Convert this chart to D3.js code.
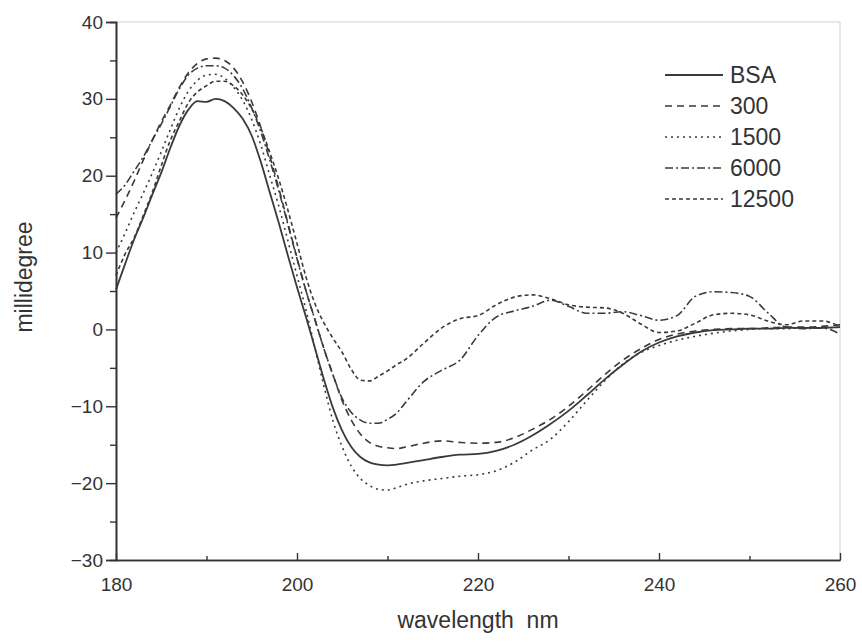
<!DOCTYPE html>
<html>
<head>
<meta charset="utf-8">
<script src="https://d3js.org/d3.v7.min.js"></script>
<style>
  body { margin: 0; background: #fff; }
  text { font-family: Arial, "Liberation Sans", sans-serif; fill: #333; }
</style>
</head>
<body>
<div id="chart"></div>
<script>
var wavelength = [180,181,182,183,184,185,186,187,188,189,190,191,192,193,194,195,196,197,198,199,200,
    201,202,203,204,205,206,207,208,209,210,211,212,214,216,218,220,222,224,226,228,230,
    232,234,236,238,240,242,244,246,248,250,252,254,256,258,260];

var bsa = [5.2,8.5,11.7,14.5,17.5,20.4,23.6,26.5,28.6,29.7,29.6,30.0,29.7,28.8,27.4,25.2,21.8,17.8,13.8,9.6,5.5,
    1.6,-2.5,-6.6,-10.3,-13.2,-15.3,-16.6,-17.3,-17.6,-17.7,-17.6,-17.4,-17.0,-16.6,-16.3,-16.2,-15.8,-15.0,-13.8,-12.3,-10.6,
    -8.6,-6.5,-4.6,-2.9,-1.7,-0.9,-0.4,-0.1,0.0,0.1,0.1,0.2,0.2,0.2,0.3];

var s300 = [14.5,16.8,19.3,22.0,24.6,27.0,29.2,31.5,33.4,34.6,35.2,35.3,35.0,34.0,32.2,29.6,26.3,22.5,18.3,13.8,9.3,
    5.0,1.2,-2.6,-6.0,-9.3,-11.8,-13.6,-14.7,-15.2,-15.4,-15.5,-15.3,-14.8,-14.5,-14.7,-14.8,-14.7,-14.1,-13.0,-11.7,-10.0,
    -8.0,-5.9,-4.0,-2.5,-1.3,-0.6,-0.2,0.0,0.1,0.1,0.2,0.3,0.3,0.4,0.6];

var s1500 = [10.0,12.5,15.2,17.7,20.3,23.1,26.0,28.8,31.0,32.4,33.1,33.2,32.7,31.5,29.8,27.3,24.0,20.0,16.0,11.5,7.0,
    2.5,-2.5,-7.5,-12.0,-15.3,-17.8,-19.4,-20.3,-20.8,-20.9,-20.6,-20.2,-19.7,-19.4,-19.1,-18.9,-18.4,-17.3,-15.7,-14.3,-12.0,
    -9.3,-6.7,-4.5,-3.0,-2.1,-1.4,-0.9,-0.5,-0.2,0.0,0.1,0.1,0.2,0.2,0.3];

var s6000 = [17.6,18.8,20.6,22.4,24.6,26.7,29.0,31.3,33.1,34.0,34.3,34.3,34.0,33.0,31.3,28.8,25.7,22.0,18.0,13.6,9.2,
    5.0,1.2,-2.6,-6.0,-9.0,-10.8,-11.8,-12.2,-12.2,-11.7,-10.9,-9.5,-6.8,-5.3,-4.0,-0.8,1.6,2.4,3.0,3.8,3.0,
    2.1,2.1,2.3,1.8,1.2,1.8,4.3,4.9,4.8,4.3,2.2,0.3,0.1,0.2,-0.6];

var s12500 = [7.0,9.8,11.9,14.8,17.8,21.3,24.6,27.1,29.5,30.9,31.7,32.3,32.3,31.7,30.5,28.7,26.2,23.0,19.5,15.5,11.2,
    6.8,3.3,0.8,-1.2,-3.0,-5.2,-6.6,-6.7,-6.1,-5.4,-4.6,-3.9,-1.8,0.2,1.4,1.8,3.2,4.2,4.5,4.0,3.2,
    2.9,2.8,2.1,0.7,-0.4,-0.2,0.8,1.9,2.1,1.9,1.1,0.6,1.1,1.1,0.4];

var seriesNames = ['BSA', '300', '1500', '6000', '12500'];
var seriesValues = [bsa, s300, s1500, s6000, s12500];
var dashes = [null, '7,5', '2,4', '8,3,2,3', '4,3'];

var xTicks = [180, 200, 220, 240, 260];
var xMinor = [190, 210, 230, 250];
var yTicks = [-30, -20, -10, 0, 10, 20, 30, 40];
var yMinor = [-25, -15, -5, 5, 15, 25, 35];

var margin = {top: 22, right: 22, bottom: 83, left: 116};
var width = 862 - margin.left - margin.right, height = 643 - margin.top - margin.bottom;

var x = d3.scaleLinear().domain([180, 260]).range([0, width]);
var y = d3.scaleLinear().domain([-30, 40]).range([height, 0]);

var svg = d3.select('#chart')
    .append('svg')
    .attr('width', 862)
    .attr('height', 643);
var graph = svg.append('g')
    .attr('transform', 'translate(' + margin.left + ',' + margin.top + ')');

// light frame top / right
graph.append('line').attr('x1', 0).attr('x2', width).attr('y1', 0).attr('y2', 0)
    .attr('stroke', '#cfcfcf').attr('stroke-width', 1);
graph.append('line').attr('x1', width).attr('x2', width).attr('y1', 0).attr('y2', height)
    .attr('stroke', '#cfcfcf').attr('stroke-width', 1);

// curves
var line = d3.line()
    .x(function (d) { return x(d[0]); })
    .y(function (d) { return y(d[1]); })
    .curve(d3.curveMonotoneX);

seriesValues.forEach(function (vals, i) {
    var pts = wavelength.map(function (w, j) { return [w, vals[j]]; });
    graph.append('path')
        .datum(pts)
        .attr('d', line)
        .attr('fill', 'none')
        .attr('stroke', '#3a3a3a')
        .attr('stroke-width', i == 0 ? 1.8 : 1.6)
        .attr('stroke-dasharray', dashes[i]);
});

// axes
graph.append('g')
    .call(d3.axisLeft(y).tickValues(yTicks).tickSize(10).tickPadding(3))
    .classed('axis', true);
graph.append('g')
    .call(d3.axisLeft(y).tickValues(yMinor).tickSize(6).tickFormat(''));
graph.append('g')
    .attr('transform', 'translate(0,' + height + ')')
    .call(d3.axisBottom(x).tickValues(xTicks).tickSizeInner(-7).tickSizeOuter(0).tickPadding(18))
    .classed('axis', true);
graph.append('g')
    .attr('transform', 'translate(0,' + height + ')')
    .call(d3.axisBottom(x).tickValues(xMinor).tickSizeInner(-4).tickSizeOuter(0).tickFormat(''));

graph.selectAll('.domain').attr('stroke', '#333').attr('stroke-width', 1.6);
graph.selectAll('.tick line').attr('stroke', '#333').attr('stroke-width', 1.4);
graph.selectAll('.axis text').style('font-size', '19px').attr('fill', '#333');

// axis titles
svg.append('text')
    .attr('x', 478).attr('y', 628)
    .attr('text-anchor', 'middle')
    .style('font-size', '23px')
    .style('white-space', 'pre')
    .text('wavelength  nm');
svg.append('text')
    .attr('transform', 'translate(32,277) rotate(-90)')
    .attr('text-anchor', 'middle')
    .style('font-size', '23px')
    .text('millidegree');

// legend
var legend = svg.append('g').attr('transform', 'translate(665,75)');
seriesNames.forEach(function (name, i) {
    var row = legend.append('g').attr('transform', 'translate(0,' + (i * 31) + ')');
    row.append('line')
        .attr('x1', 0).attr('x2', 58).attr('y1', 0).attr('y2', 0)
        .attr('stroke', '#3a3a3a')
        .attr('stroke-width', i == 0 ? 1.8 : 1.6)
        .attr('stroke-dasharray', dashes[i]);
    row.append('text')
        .attr('x', 65).attr('y', 8)
        .style('font-size', '23px')
        .text(name);
});
</script>
</body>
</html>
